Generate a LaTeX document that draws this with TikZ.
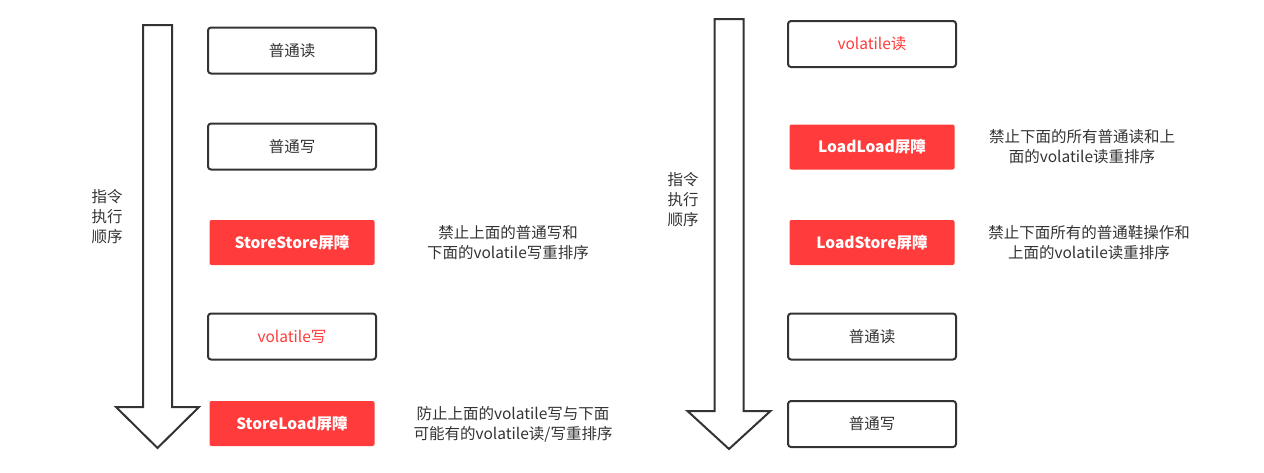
\documentclass[tikz,border=0pt]{standalone}
\usepackage{fontspec}
\setmainfont{Noto Sans CJK SC}
\definecolor{barred}{HTML}{FF3B3B}
\definecolor{linegray}{HTML}{333333}
\tikzstyle{opbox} = [rectangle, draw=linegray, line width=2pt, rounded corners=3pt, minimum width=168pt, minimum height=46pt, text=linegray, font=\fontsize{15.5}{20}\selectfont]
\tikzstyle{barbox} = [rectangle, fill=barred, rounded corners=2pt, minimum width=165pt, minimum height=45pt, text=white, font=\bfseries\fontsize{15.5}{20}\selectfont]
\tikzstyle{note} = [align=center, text=linegray, font=\fontsize{15.5}{20}\selectfont]

\begin{document}
\begin{tikzpicture}[x=1pt, y=-1pt]
  \useasboundingbox (0, 0) rectangle (1264, 472);
  % the two arrows
  \foreach \cx/\top/\neck/\tip in {157.5/25/407/448, 729/19/411/449} {
    \draw[linegray, line width=2pt, line join=miter]
      (\cx - 14.5, \top) -- (\cx + 14.5, \top) -- (\cx + 14.5, \neck)
      -- (\cx + 41.5, \neck) -- (\cx, \tip) -- (\cx - 41.5, \neck)
      -- (\cx - 14.5, \neck) -- cycle;
  }
  \node[note] (orderL) at (107, 217) {指令\\执行\\顺序};
  \node[note] (orderR) at (683, 200) {指令\\执行\\顺序};
  % left column
  \node[opbox] (l0) at (292, 50.5) {普通读};
  \node[opbox] (l1) at (292, 146.5) {普通写};
  \node[barbox] (l2) at (292, 242.5) {StoreStore屏障};
  \node[opbox, text=barred] (l3) at (292, 336.5) {volatile写};
  \node[barbox] (l4) at (292, 423.5) {StoreLoad屏障};
  \node[note] (nl2) at (508, 243) {禁止上面的普通写和\\下面的volatile写重排序};
  \node[note] (nl4) at (513, 424) {防止上面的volatile写与下面\\可能有的volatile读/写重排序};
  % right column
  \node[opbox, text=barred] (r0) at (872, 44) {volatile读};
  \node[barbox] (r1) at (872, 147) {LoadLoad屏障};
  \node[barbox] (r2) at (872, 242.5) {LoadStore屏障};
  \node[opbox] (r3) at (872, 336.5) {普通读};
  \node[opbox] (r4) at (872, 424) {普通写};
  \node[note] (nr1) at (1082, 147) {禁止下面的所有普通读和上\\面的volatile读重排序};
  \node[note] (nr2) at (1089, 243) {禁止下面所有的普通鞋操作和\\上面的volatile读重排序};
\end{tikzpicture}
\end{document}
